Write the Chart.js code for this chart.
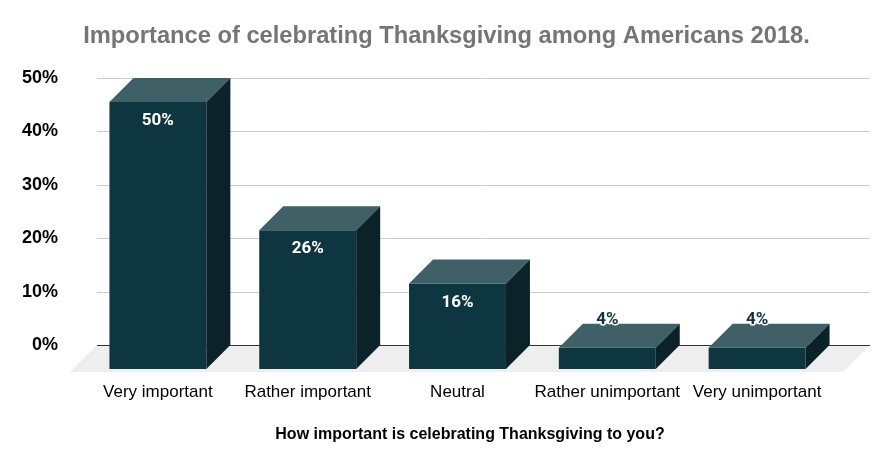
<!DOCTYPE html>
<html>
<head>
<meta charset="utf-8">
<script src="https://cdn.jsdelivr.net/npm/chart.js@4.4.1/dist/chart.umd.min.js"></script>
<style>
    html, body { margin: 0; padding: 0; background: #fff; }
    #wrap { width: 893px; height: 467px; position: relative; }
</style>
</head>
<body>
<div id="wrap"><canvas id="chart"></canvas></div>
<script>
// Chart data
const categories = ['Very important', 'Rather important', 'Neutral', 'Rather unimportant', 'Very unimportant'];
const shares = [50, 26, 16, 4, 4];
const yTickValues = [0, 10, 20, 30, 40, 50];
const chartTitle = 'Importance of celebrating Thanksgiving among Americans 2018.';
const axisTitle = 'How important is celebrating Thanksgiving to you?';

// 3D look
const DEPTH = 24;
const FLOOR_DEPTH = 27;
const FRONT = '#0e3640';
const TOP = '#3f6066';
const SIDE = '#0b2328';
const FONT = '"Liberation Sans", Arial, sans-serif';

function poly(ctx, pts, color) {
    ctx.beginPath();
    ctx.moveTo(pts[0][0], pts[0][1]);
    for (let i = 1; i < pts.length; i++) ctx.lineTo(pts[i][0], pts[i][1]);
    ctx.closePath();
    ctx.fillStyle = color;
    ctx.fill();
}

// Draws floor, grid on the back plane, and top/side faces of the bars
const box3d = {
    id: 'box3d',
    beforeDatasetsDraw(chart) {
        const ctx = chart.ctx;
        const area = chart.chartArea;
        const y = chart.scales.y;
        const x0 = area.left + 14, x1 = area.right + 38;
        const zero = y.getPixelForValue(0);

        ctx.save();
        poly(ctx, [[x0, zero], [x1, zero], [x1 - FLOOR_DEPTH, zero + FLOOR_DEPTH], [x0 - FLOOR_DEPTH, zero + FLOOR_DEPTH]], '#eeeeee');
        yTickValues.forEach(v => {
            const py = Math.round(y.getPixelForValue(v)) + 0.5;
            ctx.beginPath();
            ctx.moveTo(x0, py);
            ctx.lineTo(x1, py);
            ctx.lineWidth = 1;
            ctx.strokeStyle = v === 0 ? '#333333' : '#cccccc';
            ctx.stroke();
        });
        ctx.restore();

        // front faces sit in front of the back plane
        ctx.save();
        ctx.translate(0, DEPTH);
    },
    afterDatasetsDraw(chart) {
        const ctx = chart.ctx;
        ctx.restore();
        ctx.save();
        const meta = chart.getDatasetMeta(0);
        meta.data.forEach((bar, i) => {
            const p = bar.getProps(['x', 'y', 'base', 'width'], true);
            const L = p.x - p.width / 2, R = p.x + p.width / 2;
            const top = p.y + DEPTH, bottom = p.base + DEPTH;
            poly(ctx, [[L, top], [R, top], [R + DEPTH, top - DEPTH], [L + DEPTH, top - DEPTH]], TOP);
            poly(ctx, [[R, top], [R + DEPTH, top - DEPTH], [R + DEPTH, bottom - DEPTH], [R, bottom]], SIDE);

            const label = shares[i] + '%';
            ctx.font = 'bold 17px Roboto, sans-serif';
            ctx.textAlign = 'center';
            ctx.textBaseline = 'middle';
            if (bottom - top > 40) {
                ctx.fillStyle = '#ffffff';
                ctx.fillText(label, p.x, top + 19);
            } else {
                const ly = top - DEPTH - 4;
                ctx.lineWidth = 3;
                ctx.lineJoin = 'round';
                ctx.strokeStyle = '#ffffff';
                ctx.strokeText(label, p.x, ly);
                ctx.fillStyle = FRONT;
                ctx.fillText(label, p.x, ly);
            }
        });

        // axis title centred under the whole 3D area
        const area = chart.chartArea;
        ctx.font = 'bold 16px ' + FONT;
        ctx.fillStyle = '#000000';
        ctx.textAlign = 'center';
        ctx.textBaseline = 'middle';
        const cx = ((area.left + 14 - FLOOR_DEPTH) + (area.right + 38)) / 2;
        ctx.fillText(axisTitle, cx, chart.scales.x.bottom - 32);
        ctx.restore();
    }
};

new Chart(document.getElementById('chart'), {
    type: 'bar',
    data: {
        labels: categories,
        datasets: [{
            data: shares,
            backgroundColor: FRONT,
            borderWidth: 0,
            barPercentage: 0.647,
            categoryPercentage: 1,
            clip: false
        }]
    },
    options: {
        responsive: true,
        maintainAspectRatio: false,
        animation: false,
        layout: { padding: 0 },
        plugins: {
            legend: { display: false },
            tooltip: { enabled: false },
            title: {
                display: true,
                text: chartTitle,
                color: '#757575',
                font: { family: FONT, size: 23.7, weight: 'bold' },
                padding: { top: 22.5, bottom: 27.1 }
            }
        },
        scales: {
            x: {
                grid: { display: false },
                border: { display: false },
                ticks: {
                    color: '#000000',
                    font: { family: FONT, size: 17 },
                    padding: 29,
                    maxRotation: 0,
                    autoSkip: false
                },
                afterFit(scale) { scale.height = 122; }
            },
            y: {
                min: 0,
                max: 50,
                grid: { display: false },
                border: { display: false },
                ticks: {
                    stepSize: 10,
                    color: '#000000',
                    font: { family: FONT, size: 18, weight: 'bold' },
                    padding: 17,
                    callback: v => v + '%'
                },
                afterFit(scale) { scale.width = 83; }
            },
            y2: {
                position: 'right',
                grid: { display: false },
                border: { display: false },
                ticks: { display: false },
                afterFit(scale) { scale.width = 61; }
            }
        }
    },
    plugins: [box3d]
});
</script>
</body>
</html>
